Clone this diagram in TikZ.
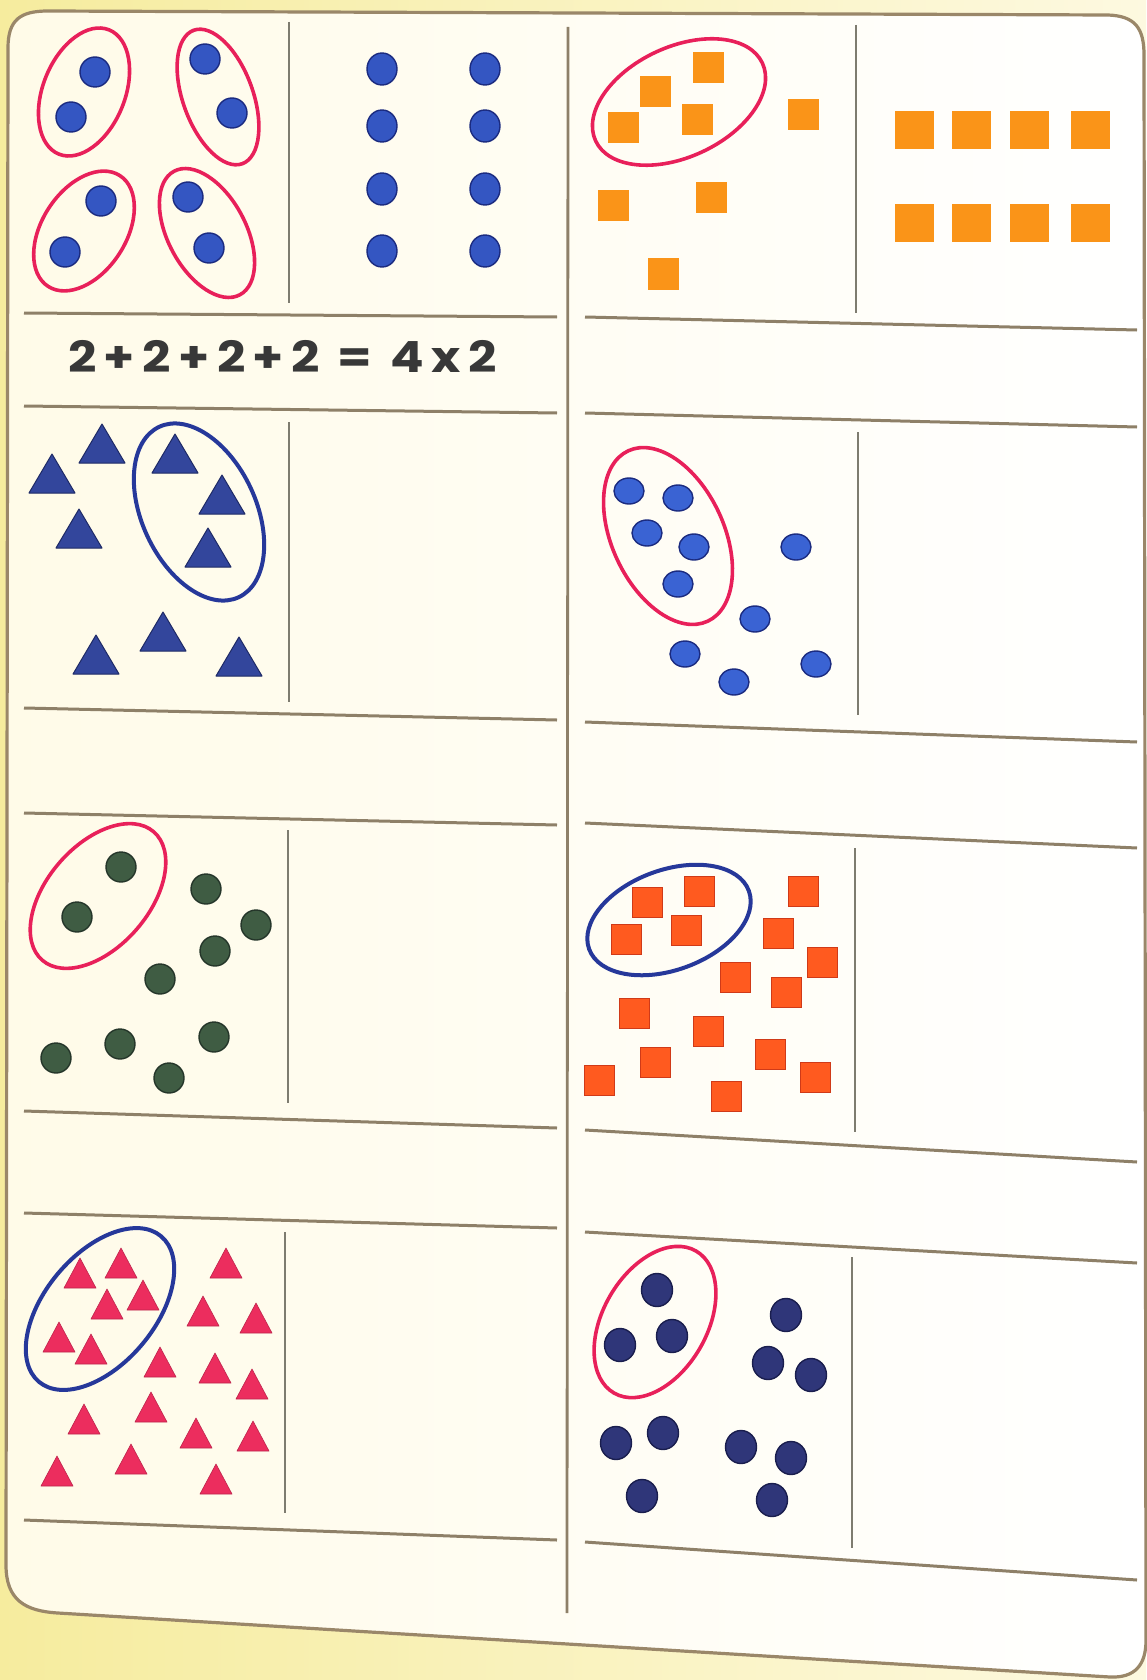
\documentclass[tikz,border=0pt]{standalone}
\usepackage{fontspec}
\newfontfamily\eqfont{Poppins}[LetterSpace=15]
\definecolor{paperOut}{HTML}{F6EC9E}
\definecolor{paperOutR}{HTML}{FDF9E0}
\definecolor{paperIn}{HTML}{FFFBE8}
\definecolor{paperInR}{HTML}{FFFFFF}
\definecolor{borderC}{HTML}{9A8769}
\definecolor{lineC}{HTML}{8E8068}
\definecolor{vlineC}{HTML}{7E7C70}
\definecolor{ringPink}{HTML}{E8205A}
\definecolor{ringBlue}{HTML}{26389A}
\definecolor{dotBlue}{HTML}{3456C2}
\definecolor{dotBlueE}{HTML}{1B2B80}
\definecolor{ovalBlue}{HTML}{3A63D3}
\definecolor{triBlue}{HTML}{33469C}
\definecolor{triBlueE}{HTML}{1E2A66}
\definecolor{sqOrange}{HTML}{FA9418}
\definecolor{dotGreen}{HTML}{3F5C43}
\definecolor{dotGreenE}{HTML}{25362A}
\definecolor{sqRed}{HTML}{FF5A1F}
\definecolor{sqRedE}{HTML}{D03A18}
\definecolor{triPink}{HTML}{EC2D5E}
\definecolor{dotNavy}{HTML}{2F3679}
\definecolor{dotNavyE}{HTML}{1A1E4E}
\definecolor{eqC}{HTML}{383838}
\begin{document}
\begin{tikzpicture}[x=1pt,y=-1pt,
  border/.style={draw=borderC,line width=3.2pt},
  hl/.style={draw=lineC,line width=3pt},
  vl/.style={draw=vlineC,line width=2.8pt},
  pinkring/.style={draw=ringPink,line width=3.6pt},
  bluering/.style={draw=ringBlue,line width=4pt},
  bluedot/.style={fill=dotBlue,draw=dotBlueE,line width=1.4pt},
  bluetri/.style={fill=triBlue,draw=triBlueE,line width=1pt,line join=round},
  orangesq/.style={fill=sqOrange},
  greendot/.style={fill=dotGreen,draw=dotGreenE,line width=1.4pt},
  redsq/.style={fill=sqRed,draw=sqRedE,line width=0.8pt},
  pinktri/.style={fill=triPink,draw=triPink!80!black,line width=0.6pt,line join=round},
  navydot/.style={fill=dotNavy,draw=dotNavyE,line width=1.4pt}]
\useasboundingbox (0,0) rectangle (1146,1680);
% paper
\shade[left color=paperOut,right color=paperOutR] (0,0) rectangle (1146,1680);
\path[left color=paperIn,right color=paperInR] (8,48) .. controls (8,20) and (20,11) .. (48,11) -- (1108,15) .. controls (1135,16) and (1144,28) .. (1144,55) -- (1146,1640) .. controls (1146,1665) and (1135,1678) .. (1110,1677) -- (58,1613) .. controls (25,1611) and (6,1600) .. (6,1565) -- cycle;
\draw[border] (8,48) .. controls (8,20) and (20,11) .. (48,11) -- (1108,15) .. controls (1135,16) and (1144,28) .. (1144,55) -- (1146,1640) .. controls (1146,1665) and (1135,1678) .. (1110,1677) -- (58,1613) .. controls (25,1611) and (6,1600) .. (6,1565) -- cycle;
% centre divider
\coordinate (ct) at (568,27); \coordinate (cb) at (567,1613);
\draw[vl,draw=lineC] (ct) -- (cb);
% horizontal rules, left column
\foreach \ya/\yb [count=\i] in {313/317,406/413,708/720,813/825,1111/1128,1213/1228,1520/1540}{
  \coordinate (la\i) at (24,\ya); \coordinate (lb\i) at (557,\yb);
  \draw[hl] (la\i) -- (lb\i);}
% horizontal rules, right column
\foreach \ya/\yb [count=\i] in {317/330,413/427,722/742,823/848,1130/1162,1232/1263,1542/1580}{
  \coordinate (ra\i) at (585,\ya); \coordinate (rb\i) at (1137,\yb);
  \draw[hl] (ra\i) -- (rb\i);}
% vertical rules
\foreach \x/\ya/\yb [count=\i] in {289/22/303,289/422/702,288/830/1103,285/1232/1513}{
  \coordinate (lv\i) at (\x,\ya); \coordinate (lw\i) at (\x,\yb);
  \draw[vl] (lv\i) -- (lw\i);}
\foreach \x/\ya/\yb [count=\i] in {856/25/313,858/432/715,855/848/1132,852/1257/1548}{
  \coordinate (rv\i) at (\x,\ya); \coordinate (rw\i) at (\x,\yb);
  \draw[vl] (rv\i) -- (rw\i);}
% ---------- panel L1 ----------
\foreach \x/\y in {95/72,71/117,205/59,232/113,101/201,65/252,188/197,209/248}
  \draw[bluedot] (\x,\y) circle[radius=15];
\draw[pinkring,rotate around={68:(84,92)}] (84,92) ellipse[x radius=67,y radius=41];
\draw[pinkring,rotate around={110:(218,97)}] (218,97) ellipse[x radius=71,y radius=35];
\draw[pinkring,rotate around={57:(84,231)}] (84,231) ellipse[x radius=66,y radius=42];
\draw[pinkring,rotate around={118:(207,233)}] (207,233) ellipse[x radius=70,y radius=39];
\foreach \x in {382,485}\foreach \y in {69,126,189,251}
  \draw[bluedot] (\x,\y) ellipse[x radius=15,y radius=16];
% equation
\node[anchor=base west,inner sep=0pt,text=eqC,font=\eqfont\bfseries\fontsize{43}{43}\selectfont] (eq) at (68,372) {\scalebox{1.155}[1]{2+2+2+2 = 4x2}};
% ---------- panel R1 ----------
\foreach \x/\y in {708/68,655/92,623/128,697/120,803/115,613/206,711/198,663/274}
  \fill[orangesq] (\x,\y) ++(-15.5,-15.5) rectangle ++(31,31);
\draw[pinkring,rotate around={25:(679,102)}] (679,102) ellipse[x radius=92,y radius=55];
\foreach \x in {914,971,1029,1090}\foreach \y in {130,223}
  \fill[orangesq] (\x,\y) ++(-19.5,-19) rectangle ++(39,38);
% ---------- panel L2 ----------
\foreach \x/\b in {102/463,52/493,79/548,175/473,222/514,208/567,163/651,96/674,239/676}
  \filldraw[bluetri] (\x,\b) ++(-23,0) -- ++(46,0) -- ++(-23,-39) -- cycle;
\draw[bluering,rotate around={115:(199,512)}] (199,512) ellipse[x radius=94,y radius=57];
% ---------- panel R2 ----------
\foreach \x/\y in {629/491,678/498,647/533,694/547,678/584,796/547,755/619,685/654,734/682,816/664}
  \draw[bluedot,fill=ovalBlue] (\x,\y) ellipse[x radius=15,y radius=13];
\draw[pinkring,rotate around={115:(668,536)}] (668,536) ellipse[x radius=94,y radius=56];
% ---------- panel L3 ----------
\foreach \x/\y in {121/867,77/917,206/889,256/925,215/951,160/979,56/1058,120/1044,214/1037,169/1078}
  \draw[greendot] (\x,\y) circle[radius=15];
\draw[pinkring,rotate around={49:(98,896)}] (98,896) ellipse[x radius=85,y radius=51];
% ---------- panel R3 ----------
\foreach \x/\y in {699/891,647/902,686/930,626/939,803/891,778/933,822/962,735/977,786/992,634/1013,708/1031,770/1054,655/1062,599/1080,815/1077,726/1096}
  \filldraw[redsq] (\x,\y) ++(-15,-15) rectangle ++(30,30);
\draw[bluering,rotate around={20:(669,920)}] (669,920) ellipse[x radius=85,y radius=50];
% ---------- panel L4 ----------
\foreach \x/\b in {80/1288,121/1278,143/1310,107/1319,59/1352,91/1364,226/1278,203/1326,256/1333,160/1377,215/1383,252/1399,84/1434,151/1422,196/1448,253/1451,131/1474,57/1486,216/1494}
  \filldraw[pinktri] (\x,\b) ++(-16,0) -- ++(32,0) -- ++(-16,-30) -- cycle;
\draw[bluering,rotate around={50:(100,1309)}] (100,1309) ellipse[x radius=95,y radius=55];
% ---------- panel R4 ----------
\foreach \x/\y in {657/1290,620/1345,672/1336,786/1315,768/1363,811/1375,616/1443,663/1433,741/1447,791/1458,642/1496,772/1500}
  \draw[navydot] (\x,\y) ellipse[x radius=15.5,y radius=16.5];
\draw[pinkring,rotate around={60:(655,1322)}] (655,1322) ellipse[x radius=82,y radius=52];
\end{tikzpicture}
\end{document}
